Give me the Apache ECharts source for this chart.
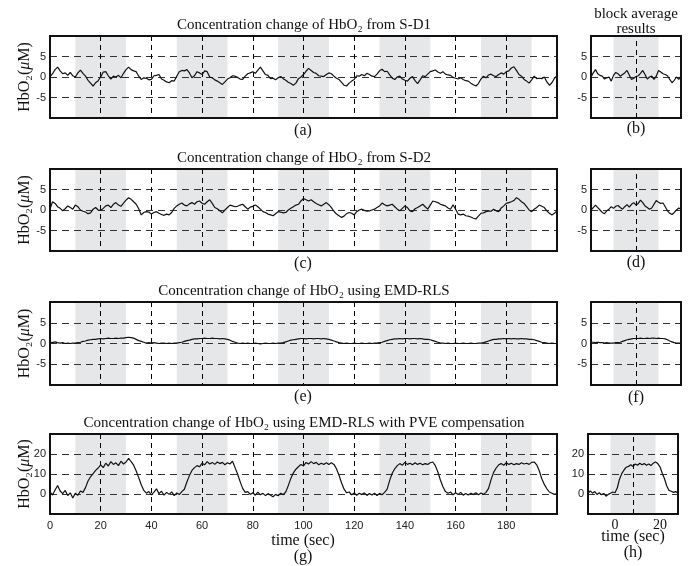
<!DOCTYPE html>
<html>
<head>
<meta charset="utf-8">
<script src="https://cdn.jsdelivr.net/npm/echarts@6/dist/echarts.min.js"></script>
<style>
  html, body { margin: 0; padding: 0; background: #fff; }
  #main { width: 691px; height: 566px; }
</style>
</head>
<body>
<div id="main"></div>
<script>
// stimulus blocks (sec) on the long runs and on the block average window
var stimBlocks = [[10, 30], [50, 70], [90, 110], [130, 150], [170, 190]];
var avgBlock = [-2, 18];
var avgMid = 8;

// (a) HbO2 from S-D1, 1 s steps from t = 0
var sd1 = [
  0, 0.8, 1.8, 2.4, 1.5, 0.8, 1.0, 0.4, 1.1, 0.3,
  0.0, 1.0, 1.7, 0.9, 0.2, -0.8, -1.5, -2.2, -1.4, -0.9,
  0.0, 1.2, 1.3, 0.3, -0.5, 0.2, 0.0, 0.4, -0.2, 0.9,
  1.8, 2.4, 1.8, 1.5, 1.3, 0.2, -0.6, -0.2, -0.3, -0.7,
  -0.6, 0.3, 0.4, 0.6, -0.5, -0.8, -1.2, -1.4, -0.9, -1.0,
  0.2, 1.3, 1.6, 1.5, 1.8, 1.0, -0.2, 0.3, 1.3, 1.0,
  0.6, 1.5, 1.3, 0.0, -0.2, -0.7, -1.0, -1.4, -1.8, -1.2,
  -0.5, -0.2, 0.3, 0.2, -0.1, -0.5, -0.6, 0.2, 0.8, 1.0,
  1.3, 0.9, 1.7, 2.4, 1.5, 0.6, 0.4, -0.4, -0.3, -0.7,
  -0.2, 0.1, -0.4, -0.8, -1.3, -1.6, -2.0, -1.5, -0.4, 0.0,
  0.6, 1.4, 2.1, 1.6, 1.1, 0.9, 0.3, 0.2, 0.1, 0.6,
  1.0, 0.8, 0.2, -0.3, -0.6, -1.3, -2.0, -2.2, -1.5, -1.0,
  -0.6, 0.3, 0.2, 0.6, 0.3, 0.9, 0.6, 0.2, 0.1, 0.7,
  1.5, 1.9, 1.3, 1.4, 0.5, -0.3, -0.6, 0.0, 0.2, -0.5,
  -0.8, -1.0, -0.3, 0.1, -0.9, -1.6, -0.7, 0.3, 0.1, 0.7,
  1.3, 1.5, 1.7, 1.2, 0.9, 1.3, 0.7, 0.5, 0.4, -0.1,
  -0.3, -0.5, -0.2, -0.6, -0.9, -1.0, -1.5, -1.9, -2.2, -1.6,
  -0.5, 0.2, -0.2, 0.5, 0.7, 0.3, 0.1, 0.6, 1.0, 0.7,
  1.3, 1.5, 2.2, 2.5, 1.6, 0.6, 0.2, -0.6, -1.0, -1.5,
  -0.7, 0.2, -0.4, -0.3, -0.4, 0.0, -1.2, -2.0, -1.4, -0.3,
  0.3
];

// (c) HbO2 from S-D2
var sd2 = [
  0.2, 2.0, 1.6, 0.8, 0.4, -0.2, 0.3, 1.0, 0.6, 0.2,
  1.2, 0.8, 0.0, -0.3, -0.5, -0.9, -0.7, 0.2, 0.6, 0.0,
  -0.1, 0.4, 1.0, 1.2, 0.6, 1.4, 1.8, 1.2, 0.9, 1.7,
  2.4, 3.0, 2.6, 2.0, 1.4, 0.3, -1.2, -0.6, -0.4, -0.5,
  -1.0, -0.6, -0.4, -0.8, -1.1, -1.3, -1.0, -1.2, -0.6, 0.4,
  1.0, 1.4, 1.7, 1.2, 1.0, 1.5, 1.8, 1.4, 2.0, 2.2,
  1.6, 1.4, 2.0, 2.5, 1.6, 0.6, 0.3, -0.2, -0.7, 0.0,
  0.6, 1.2, 1.0, 0.8, 0.9, 1.2, 1.4, 0.8, 0.2, 0.7,
  0.9, 1.2, 0.8, 0.2, -0.4, -0.6, -1.0, -1.2, -1.4, -0.9,
  -0.4, -0.5, -0.7, -0.6, 0.0, 0.4, 0.8, 1.2, 1.4, 2.2,
  2.8, 2.5, 2.2, 2.5, 2.0, 1.6, 1.3, 1.0, 1.4, 1.8,
  1.3, 0.6, -0.3, -1.0, -1.4, -1.8, -1.5, -0.9, -0.6, -0.8,
  -1.2, -0.4, 0.0, 0.2, -0.1, -0.3, -0.2, 0.0, 0.2, 0.6,
  1.0, 1.7, 1.3, 1.0, 1.2, 1.4, 0.8, 0.2, -0.2, 0.4,
  1.0, 0.6, -0.2, -0.4, 0.3, 0.6, 1.0, 1.4, 0.8, 0.2,
  1.2, 2.2, 2.0, 1.8, 1.4, 1.2, 1.0, 0.5, 0.2, 1.3,
  0.2, -1.0, -1.2, -1.0, -1.4, -1.5, -1.7, -2.0, -2.2, -1.5,
  -0.8, -0.7, -0.4, -0.2, -0.3, 0.2, -0.2, -0.4, 0.5, 1.0,
  1.6, 1.8, 2.0, 2.3, 3.0, 2.6, 2.0, 1.6, 0.8, 0.0,
  -0.4, 0.2, 0.6, 1.2, 0.9, 0.6, -0.2, -0.8, -1.2, -0.8,
  -0.2
];

// (e) EMD-RLS
var emd = [
  0.3, 0.2, 0.4, 0.2, 0.1, 0.2, 0.0, 0.1, 0.0, 0.1,
  0.1, 0.2, 0.3, 0.5, 0.6, 0.8, 0.9, 1.0, 1.0, 1.1,
  1.2, 1.1, 1.2, 1.3, 1.2, 1.2, 1.3, 1.2, 1.3, 1.3,
  1.4, 1.5, 1.4, 1.3, 1.0, 0.7, 0.5, 0.3, 0.1, 0.2,
  0.1, 0.2, 0.1, 0.0, 0.1, 0.1, 0.0, 0.1, 0.0, 0.1,
  0.1, 0.2, 0.3, 0.5, 0.7, 0.8, 1.0, 1.1, 1.1, 1.2,
  1.2, 1.3, 1.2, 1.2, 1.3, 1.2, 1.2, 1.1, 1.2, 1.1,
  1.0, 0.8, 0.5, 0.3, 0.1, 0.0, 0.1, 0.0, 0.1, 0.0,
  0.0, 0.1, 0.0, -0.1, 0.0, 0.1, 0.0, 0.0, 0.1, 0.0,
  0.1, 0.1, 0.2, 0.4, 0.6, 0.8, 0.9, 1.0, 1.1, 1.2,
  1.2, 1.1, 1.2, 1.2, 1.1, 1.2, 1.2, 1.1, 1.2, 1.1,
  1.0, 0.8, 0.6, 0.4, 0.2, 0.1, 0.0, 0.1, 0.0, 0.0,
  0.1, 0.0, 0.0, 0.1, 0.0, 0.0, 0.1, 0.0, 0.1, 0.1,
  0.2, 0.3, 0.5, 0.7, 0.9, 1.0, 1.1, 1.1, 1.2, 1.1,
  1.2, 1.2, 1.1, 1.2, 1.2, 1.1, 1.2, 1.1, 1.0, 1.0,
  0.9, 0.7, 0.5, 0.3, 0.1, 0.1, 0.0, 0.1, 0.0, 0.0,
  0.1, 0.0, 0.0, 0.1, 0.0, 0.0, 0.1, 0.0, 0.0, 0.1,
  0.1, 0.2, 0.4, 0.6, 0.8, 1.0, 1.0, 1.1, 1.1, 1.2,
  1.1, 1.2, 1.1, 1.2, 1.1, 1.1, 1.2, 1.1, 1.1, 1.0,
  1.0, 0.9, 0.7, 0.5, 0.3, 0.2, 0.1, 0.0, 0.1, 0.0,
  0.0
];

// (g) EMD-RLS with PVE compensation
var pve = [
  1.0, -0.5, 2.0, 4.2, 1.5, 0.2, 1.8, -0.8, 0.6, -2.0,
  0.4, -0.6, 1.5, 0.8, 3.2, 6.5, 8.6, 10.2, 11.8, 13.0,
  14.6, 13.2, 15.4, 14.0, 16.2, 14.8, 15.6, 14.2, 16.4, 15.0,
  16.0, 17.8, 16.2, 14.4, 11.5, 8.2, 4.6, 1.8, 0.4, 1.2,
  -0.4, 0.9, 2.6, 0.2, 1.4, -0.6, 0.8, -0.2, 1.1, -0.8,
  0.5, -0.3, 1.2, 2.4, 6.0, 9.2, 11.8, 13.2, 14.2, 13.6,
  15.4, 14.6, 16.2, 15.0, 15.8, 14.8, 16.0, 15.2, 15.8, 14.6,
  15.6, 15.0, 16.4, 13.2, 10.0, 6.2, 2.8, 0.8, 1.2, -0.2,
  0.6, -0.6, 0.9, -0.4, 0.3, -0.8, 0.2, -0.6, -1.4, -0.2,
  -0.9, 0.4, -0.3, 1.0, 4.2, 7.8, 10.6, 12.4, 13.6, 14.8,
  14.0, 15.8, 15.0, 16.2, 15.2, 15.8, 14.6, 15.4, 14.8, 15.6,
  14.8, 15.6, 14.8, 12.6, 9.4, 5.6, 2.4, 0.6, 1.0, -0.4,
  0.5, -0.6, 0.4, -0.3, 0.6, -0.7, 0.2, -0.5, 0.4, -0.8,
  0.3, -0.4, 0.8, 2.4, 6.8, 10.4, 12.6, 14.2, 15.2, 14.4,
  15.8, 14.8, 15.4, 14.6, 15.6, 14.8, 15.4, 14.6, 15.2, 14.8,
  15.6, 16.0, 14.2, 11.0, 7.0, 3.6, 1.2, 0.4, 1.0, -0.4,
  0.6, -0.2, 0.8, -0.6, 0.3, -0.5, 0.4, -0.3, 0.6, -0.4,
  0.5, -0.2, 0.8, 2.8, 7.2, 10.8, 13.0, 14.6, 15.2, 14.4,
  15.6, 14.8, 15.4, 14.6, 15.2, 14.8, 15.6, 15.0, 15.4, 14.8,
  15.8, 16.0, 14.6, 11.6, 7.6, 4.8, 2.6, 1.0, 0.4, -0.2,
  0.2
];

// block averages, 1 s steps from t = -12
var avgSd1 = [
  0.0, 1.0, 1.8, 0.8, 0.4, 0.2, -0.5, -0.2, 0.0, -1.0,
  0.4, 1.1, 0.8, 0.2, 0.6, 1.0, 1.6, 0.5, -0.6, -0.3,
  0.1, 0.3, 0.9, 1.6, 0.6, -0.5, 0.0, 0.2, -0.6, 0.2,
  1.6, 1.2, 0.8, 0.6, 0.3, -0.6, -1.4, -0.8, 0.0, -0.6,
  0.3
];
var avgSd2 = [
  0.0, 0.6, 1.2, 0.6, 0.0, -0.6, -0.9, -0.2, 0.2, 0.8,
  0.4, 0.9, 1.1, 0.6, 0.2, 0.8, 1.3, 0.7, 1.4, 1.8,
  1.2, 1.6, 2.4, 1.8, 1.0, 0.6, 0.2, 0.5, 1.4, 2.3,
  1.9, 1.6, 1.7, 0.8, -0.2, -0.8, -1.1, -0.6, 0.0, 0.5,
  0.2
];
var avgEmd = [
  0.3, 0.3, 0.2, 0.3, 0.2, 0.2, 0.1, 0.2, 0.1, 0.1,
  0.1, 0.2, 0.2, 0.3, 0.5, 0.7, 0.9, 1.0, 1.1, 1.2,
  1.2, 1.2, 1.3, 1.2, 1.2, 1.3, 1.2, 1.3, 1.3, 1.2,
  1.3, 1.2, 1.2, 1.1, 0.9, 0.6, 0.4, 0.2, 0.1, 0.1,
  0.1
];
var avgPve = [
  0.2, 1.6, 0.4, 1.2, -0.2, 0.6, -0.4, 0.3, -1.1, -0.2,
  0.4, 1.0, 0.6, 3.0, 7.4, 10.2, 12.0, 13.4, 13.8, 14.6,
  13.8, 15.0, 14.4, 15.4, 14.6, 15.2, 14.4, 15.0, 14.2, 15.4,
  16.0, 15.2, 13.6, 10.4, 7.6, 4.0, 1.8, 1.4, 0.8, 1.2,
  0.4
];

var titles = [
  'Concentration change of HbO\u2082 from S-D1',
  'Concentration change of HbO\u2082 from S-D2',
  'Concentration change of HbO\u2082 using EMD-RLS',
  'Concentration change of HbO\u2082 using EMD-RLS with PVE compensation'
];
var mainRuns = [sd1, sd2, emd, pve];
var avgRuns = [avgSd1, avgSd2, avgEmd, avgPve];

function toPairs(vals, t0) {
  return vals.map(function (v, i) { return [t0 + i, v]; });
}

var rowTop = [36, 169, 302, 434];
var rowH = [82, 82, 83, 80];
var serif = '"Liberation Serif", "DejaVu Serif", serif';
var sans = '"Liberation Sans", Arial, sans-serif';

var hDash = { color: '#333', width: 1, type: [7, 5] };
var vDash = { color: '#000', width: 1, type: [5, 4] };

var grids = [], xAxes = [], yAxes = [], series = [];

for (var r = 0; r < 4; r++) {
  var last = r === 3;
  var yMin = -10, yMax = last ? 30 : 10, yStep = last ? 10 : 5;
  var hideEnds = (function (lo, hi) {
    return function (v) { return (v === lo || v === hi) ? '' : String(v); };
  })(yMin, yMax);

  // long run
  grids.push({ left: 50, top: rowTop[r], width: 507, height: rowH[r],
    show: true, borderColor: '#111', borderWidth: 2, z: 10 });
  // block average
  grids.push({ left: last ? 588 : 591, top: rowTop[r], width: 90, height: rowH[r],
    show: true, borderColor: '#111', borderWidth: 2, z: 10 });

  var gi = r * 2;
  xAxes.push({
    gridIndex: gi, type: 'value', min: 0, max: 200, interval: 20, z: 1.5,
    axisLine: { show: false }, axisTick: { show: false },
    axisLabel: { show: last, margin: 6, fontFamily: sans, fontSize: 11, color: '#222',
      formatter: function (v) { return v === 200 ? '' : String(v); } },
    splitLine: { show: true, lineStyle: vDash }
  });
  xAxes.push({
    gridIndex: gi + 1, type: 'value', min: -12, max: 28, z: 1.5,
    axisLine: { show: false }, axisTick: { show: false },
    axisLabel: { show: last, margin: 4, fontFamily: serif, fontSize: 14, color: '#111',
      customValues: [0, 20] },
    splitLine: { show: false }
  });
  [gi, gi + 1].forEach(function (g, k) {
    yAxes.push({
      gridIndex: g, type: 'value', min: yMin, max: yMax, interval: yStep, z: 1.5,
      axisLine: { show: false }, axisTick: { show: false },
      axisLabel: { margin: 4, fontFamily: sans, fontSize: 11, color: '#222', formatter: hideEnds },
      splitLine: { show: true, lineStyle: hDash },
      name: k === 0 ? '{t|HbO\u2082(}{i|\u03bc}{t|M)}' : '',
      nameLocation: 'middle', nameGap: 17, nameRotate: 90, nameMoveOverlap: false,
      nameTextStyle: { fontFamily: serif, fontSize: 16, color: '#111',
        rich: {
          t: { fontFamily: serif, fontSize: 16, color: '#111' },
          i: { fontFamily: serif, fontSize: 16, color: '#111', fontStyle: 'italic' }
        } }
    });
  });

  series.push({
    type: 'line', xAxisIndex: gi, yAxisIndex: gi, showSymbol: false, silent: true,
    data: toPairs(mainRuns[r], 0),
    lineStyle: { color: '#111', width: 1.2 },
    markArea: { silent: true, itemStyle: { color: '#e6e7e9' },
      data: stimBlocks.map(function (b) { return [{ xAxis: b[0] }, { xAxis: b[1] }]; }) }
  });
  series.push({
    type: 'line', xAxisIndex: gi + 1, yAxisIndex: gi + 1, showSymbol: false, silent: true,
    data: toPairs(avgRuns[r], -12),
    lineStyle: { color: '#111', width: 1.2 },
    markArea: { silent: true, itemStyle: { color: '#e6e7e9' },
      data: [[{ xAxis: avgBlock[0] }, { xAxis: avgBlock[1] }]] },
    markLine: { silent: true, symbol: 'none', label: { show: false },
      lineStyle: vDash, data: [{ xAxis: avgMid }] }
  });
}

function txt(s, x, y, size) {
  return { type: 'text', x: x, y: y, silent: true,
    style: { text: s, font: size + 'px ' + serif, fill: '#111',
      textAlign: 'center', textVerticalAlign: 'middle' } };
}

var graphics = [
  txt(titles[0], 304, 25, 15),
  txt(titles[1], 304, 158, 15),
  txt(titles[2], 304, 291, 15),
  txt(titles[3], 304, 423, 15),
  txt('block average', 636, 14, 15),
  txt('results', 636, 29, 15),
  txt('(a)', 303, 131, 16), txt('(b)', 636, 129, 16),
  txt('(c)', 303, 264, 16), txt('(d)', 636, 263, 16),
  txt('(e)', 303, 397, 16), txt('(f)', 636, 398, 16),
  txt('time (sec)', 303, 541, 16), txt('(g)', 303, 557, 16),
  txt('time (sec)', 633, 537, 16), txt('(h)', 633, 553, 16)
];

var chart = echarts.init(document.getElementById('main'));
chart.setOption({
  animation: false,
  backgroundColor: '#fff',
  grid: grids,
  xAxis: xAxes,
  yAxis: yAxes,
  series: series,
  graphic: graphics
});
</script>
</body>
</html>
